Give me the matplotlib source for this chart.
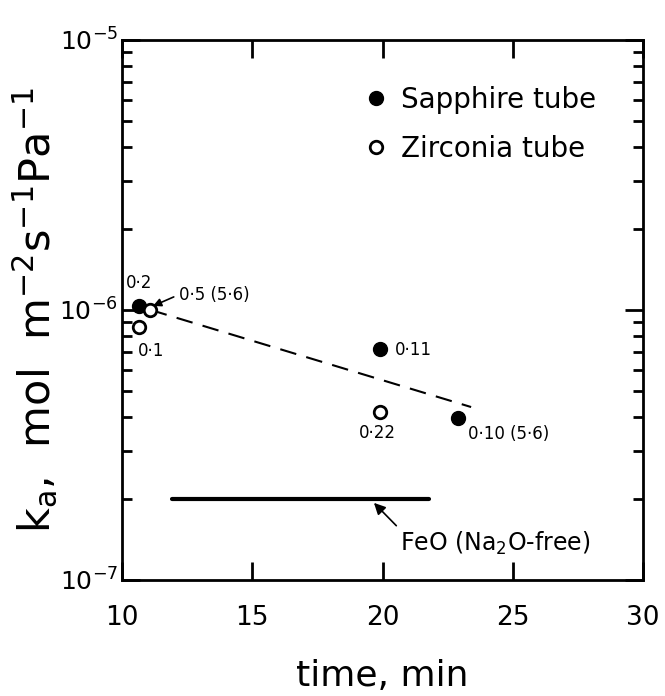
import matplotlib
matplotlib.use("Agg")
import matplotlib.pyplot as plt
from matplotlib.ticker import LogLocator, NullFormatter, FixedLocator

# sapphire tube (filled)
sapphire_t = [10.65, 19.9, 22.9]
sapphire_k = [1.03e-6, 0.717e-6, 0.398e-6]
# zirconia tube (open)
zirconia_t = [11.07, 10.65, 19.9]
zirconia_k = [1.0e-6, 0.865e-6, 0.419e-6]

# dashed trend line
trend_t = [11.1, 23.4]
trend_k = [1.0e-6, 0.437e-6]

# FeO (Na2O-free) level
feo_t = [11.9, 21.8]
feo_k = [2.0e-7, 2.0e-7]

plt.rcParams['font.family'] = ['DejaVu Sans']
plt.rcParams['mathtext.fontset'] = 'dejavusans'

fig = plt.figure(figsize=(6.65, 6.96), dpi=100)
ax = fig.add_axes([0.1835, 0.1667, 0.7835, 0.7759])

ax.plot(trend_t, trend_k, color='black', lw=1.5, ls=(0, (8, 5)))
ax.plot(feo_t, feo_k, color='black', lw=3, solid_capstyle='round')
ax.plot(sapphire_t, sapphire_k, 'o', color='black', ms=10, label='Sapphire tube', zorder=3)
ax.plot(zirconia_t, zirconia_k, 'o', mfc='white', mec='black', mew=2, ms=9,
        label='Zirconia tube', zorder=4)

ax.set_yscale('log')
ax.set_xlim(10, 30)
ax.set_ylim(1e-7, 1e-5)

ax.xaxis.set_major_locator(FixedLocator([10, 15, 20, 25, 30]))
ax.yaxis.set_major_locator(LogLocator(base=10))
ax.yaxis.set_minor_locator(LogLocator(base=10, subs=range(2, 10)))
ax.yaxis.set_minor_formatter(NullFormatter())
ax.tick_params(which='both', direction='in', top=True, right=True, width=2)
ax.tick_params(which='major', length=13)
ax.tick_params(which='minor', length=7)
ax.tick_params(axis='x', labelsize=19, pad=18)
ax.tick_params(axis='y', labelsize=18, pad=3)
for s in ax.spines.values():
    s.set_linewidth(2)

ax.set_xlabel('time, min', fontsize=26, labelpad=20)
ax.set_ylabel(r'$\mathregular{k_a}$,  mol  m$^{\mathregular{-2}}$s$^{\mathregular{-1}}$Pa$^{\mathregular{-1}}$',
              fontsize=31, labelpad=0)

lab = dict(fontsize=12, color='black')
ax.text(10.65, 1.26e-6, '0·2', ha='center', va='center', **lab)
ax.annotate('0·5 (5·6)', xy=(11.19, 1.035e-6), xytext=(12.19, 1.14e-6),
            ha='left', va='center',
            arrowprops=dict(arrowstyle='-|>', color='black', lw=1.2, shrinkA=2, shrinkB=0,
                            relpos=(0, 0.5)), **lab)
ax.text(10.61, 0.705e-6, '0·1', ha='left', va='center', **lab)
ax.text(20.48, 0.711e-6, '0·11', ha='left', va='center', **lab)
ax.text(19.8, 0.35e-6, '0·22', ha='center', va='center', **lab)
ax.text(23.28, 0.347e-6, '0·10 (5·6)', ha='left', va='center', **lab)
ax.annotate(r'FeO (Na$_2$O-free)', xy=(19.67, 1.93e-7), xytext=(20.67, 1.37e-7),
            ha='left', va='center', fontsize=17,
            arrowprops=dict(arrowstyle='-|>', color='black', lw=1.2, shrinkA=1, shrinkB=0,
                            relpos=(0, 1)))

ax.legend(loc='upper left', bbox_to_anchor=(0.44, 0.935), frameon=False, fontsize=20,
          handletextpad=0.4, labelspacing=0.75, handlelength=1.0, borderaxespad=0)

fig.savefig('out.png', dpi=100)
